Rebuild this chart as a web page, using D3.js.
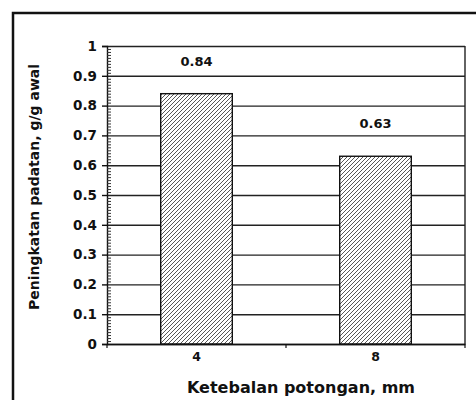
<!DOCTYPE html>
<html>
<head>
<meta charset="utf-8">
<script src="https://cdn.jsdelivr.net/npm/d3@7"></script>
<style>
  body { margin: 0; background: #fff; }
  text { font-family: "DejaVu Sans", sans-serif; font-weight: bold; fill: #111; }
</style>
</head>
<body>
<div id="chart"></div>
<script>
// data
const thickness = ["4", "8"];
const increase = [0.84, 0.63];
const valueLabels = ["0.84", "0.63"];
const yTickValues = [0, 0.1, 0.2, 0.3, 0.4, 0.5, 0.6, 0.7, 0.8, 0.9, 1];
const yTickLabels = ["0", "0.1", "0.2", "0.3", "0.4", "0.5", "0.6", "0.7", "0.8", "0.9", "1"];

function init() {
    const w = 476;
    const h = 400;
    const left = 107, right = 465, top = 46, bottom = 344;

    const svg = d3.select("#chart")
        .append("svg")
        .attr("width", w)
        .attr("height", h);

    // hatch pattern for bars (white behind the stripes so gridlines don't show)
    const defs = svg.append("defs");
    const pat = defs.append("pattern")
        .attr("id", "hatch")
        .attr("patternUnits", "userSpaceOnUse")
        .attr("width", 4)
        .attr("height", 4);
    pat.append("rect")
        .attr("width", 4)
        .attr("height", 4)
        .attr("fill", "#fff");
    pat.append("path")
        .attr("d", "M-1,1 l2,-2 M0,4 l4,-4 M3,5 l2,-2")
        .attr("stroke", "#444")
        .attr("stroke-width", 0.9);

    // outer frame
    svg.append("rect")
        .attr("x", 13)
        .attr("y", 13)
        .attr("width", w)
        .attr("height", h)
        .attr("fill", "none")
        .attr("stroke", "#111")
        .attr("stroke-width", 2.5);

    const x = d3.scaleBand()
        .domain(thickness)
        .range([left, right])
        .paddingInner(0.6)
        .paddingOuter(0.3);

    const y = d3.scaleLinear()
        .domain([0, 1])
        .range([bottom, top]);

    // gridlines
    svg.append("g")
        .attr("transform", "translate(" + left + ",0)")
        .call(d3.axisLeft(y).tickValues(yTickValues).tickSize(-(right - left)).tickFormat(""))
        .call(g => g.select(".domain").remove())
        .selectAll("line")
        .attr("stroke", "#222")
        .attr("stroke-width", 1.4);

    // plot area right edge
    svg.append("line")
        .attr("x1", right).attr("x2", right)
        .attr("y1", top).attr("y2", bottom)
        .attr("stroke", "#222")
        .attr("stroke-width", 1.4);

    // bars
    svg.selectAll(".bar")
        .data(increase)
        .enter()
        .append("rect")
        .attr("class", "bar")
        .attr("x", (d, i) => x(thickness[i]))
        .attr("y", d => y(d))
        .attr("width", x.bandwidth())
        .attr("height", d => y(0) - y(d))
        .attr("fill", "url(#hatch)")
        .attr("stroke", "#111")
        .attr("stroke-width", 1.4);

    // value labels
    svg.selectAll(".val")
        .data(increase)
        .enter()
        .append("text")
        .attr("class", "val")
        .attr("x", (d, i) => x(thickness[i]) + x.bandwidth() / 2)
        .attr("y", d => y(d) - 28)
        .attr("text-anchor", "middle")
        .attr("font-size", 13)
        .text((d, i) => valueLabels[i]);

    // y axis
    const yAxis = svg.append("g")
        .attr("transform", "translate(" + left + ",0)")
        .call(d3.axisLeft(y).tickValues(yTickValues).tickSize(5).tickPadding(5)
            .tickFormat((d, i) => yTickLabels[i]));
    yAxis.select(".domain").attr("stroke", "#111").attr("stroke-width", 1.4);
    yAxis.selectAll("line").attr("stroke", "#111").attr("stroke-width", 1.4);
    yAxis.selectAll("text").attr("font-size", 13.5).attr("font-family", null).attr("fill", "#111");

    // minor ticks every 0.01
    const minor = d3.range(0, 101).filter(i => i % 10 !== 0).map(i => i / 100);
    svg.append("g")
        .attr("transform", "translate(" + left + ",0)")
        .call(d3.axisRight(y).tickValues(minor).tickSize(4).tickFormat(""))
        .call(g => g.select(".domain").remove())
        .selectAll("line")
        .attr("stroke", "#333")
        .attr("stroke-width", 1);

    // x axis
    const xAxis = svg.append("g")
        .attr("transform", "translate(0," + bottom + ")")
        .call(d3.axisBottom(x).tickSize(0).tickPadding(8));
    xAxis.select(".domain").attr("stroke", "#111").attr("stroke-width", 1.4);
    xAxis.selectAll("text").attr("font-size", 12.5).attr("font-family", null).attr("fill", "#111");

    // category separator ticks
    const bounds = [left, (x(thickness[0]) + x.bandwidth() + x(thickness[1])) / 2, right];
    svg.selectAll(".sep")
        .data(bounds)
        .enter()
        .append("line")
        .attr("x1", d => d).attr("x2", d => d)
        .attr("y1", bottom).attr("y2", bottom + 4)
        .attr("stroke", "#111")
        .attr("stroke-width", 1.2);

    // axis titles
    svg.append("text")
        .attr("x", 301)
        .attr("y", 393)
        .attr("text-anchor", "middle")
        .attr("font-size", 16)
        .text("Ketebalan potongan, mm");

    svg.append("text")
        .attr("transform", "translate(39,187) rotate(-90)")
        .attr("text-anchor", "middle")
        .attr("font-size", 14)
        .text("Peningkatan padatan, g/g awal");
}

window.onload = init;
</script>
</body>
</html>
